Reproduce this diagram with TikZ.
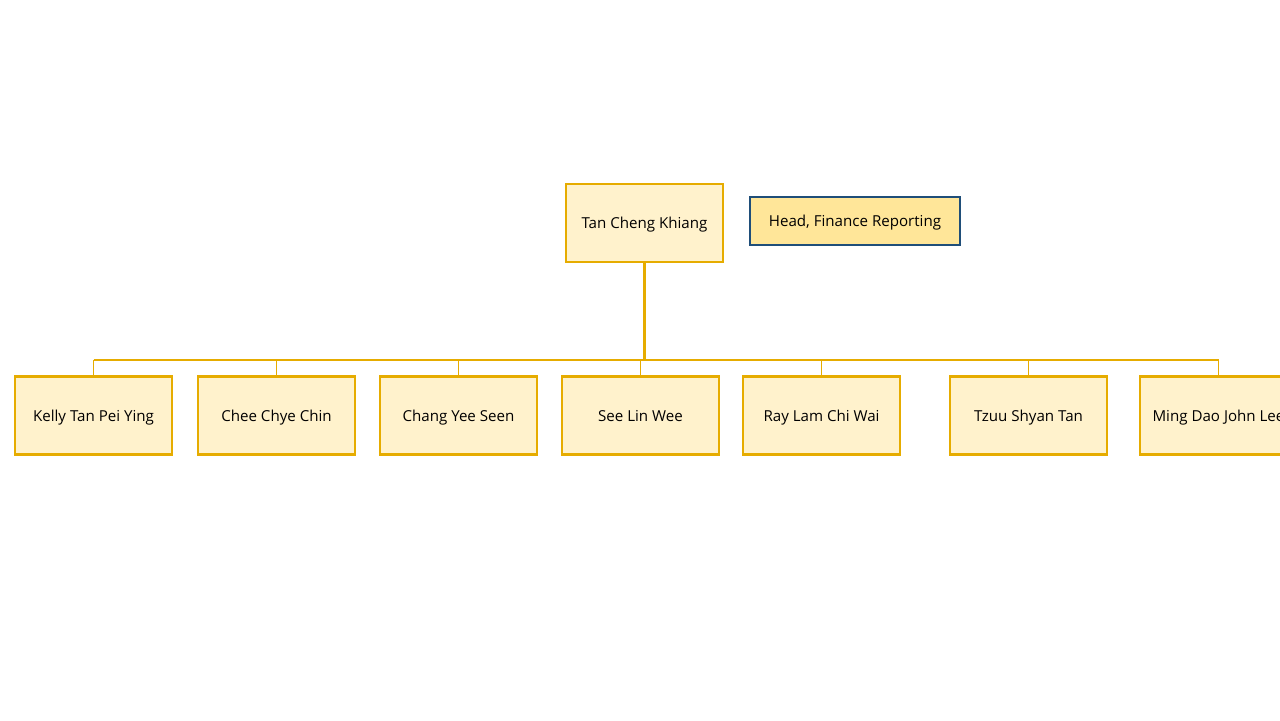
\documentclass[tikz,border=0pt]{standalone}
\usepackage{fontspec}
\setmainfont{Open Sans}
\usepackage{tikz}

\definecolor{gold}{HTML}{E6AC00}
\definecolor{paleyellow}{HTML}{FFF2CC}
\definecolor{headfill}{HTML}{FFE699}
\definecolor{navy}{HTML}{1F4E79}

\tikzset{
  person/.style={draw=gold, fill=paleyellow, line width=1.4pt, minimum width=3.14cm, minimum height=1.56cm, text height=1.4ex, text depth=0.2ex, font=\fontsize{8.6}{10}\selectfont},
  headbox/.style={draw=navy, fill=headfill, line width=1.4pt, minimum width=4.2cm, minimum height=0.96cm, text height=1.4ex, text depth=0.2ex, font=\fontsize{8.6}{10}\selectfont},
  link/.style={draw=gold, line width=0.7pt}
}

\begin{document}
\begin{tikzpicture}[x=0.02cm, y=-0.02cm]
        \useasboundingbox (0,0) rectangle (1280,720);
        \clip (0,0) rectangle (1280,720);

        \node[person] (tan) at (644.5,223) {Tan Cheng Khiang};
        \node[headbox] (head) at (855,221) {Head, Finance Reporting};

        \node[person] (kelly) at (93.5,415.5) {Kelly Tan Pei Ying};
        \node[person] (chee) at (276.5,415.5) {Chee Chye Chin};
        \node[person] (chang) at (458.5,415.5) {Chang Yee Seen};
        \node[person] (see) at (640.5,415.5) {See Lin Wee};
        \node[person] (ray) at (821.5,415.5) {Ray Lam Chi Wai};
        \node[person] (tzuu) at (1028.5,415.5) {Tzuu Shyan Tan};
        \node[person] (ming) at (1218.5,415.5) {Ming Dao John Lee};

        \coordinate (bar) at (0,360);

        \draw[link, line width=1.3pt] (tan.south) -- (tan.south |- bar); % down to the bar
        \draw[link] (kelly.north |- bar) -- (ming.north |- bar); % the bar
        \draw[link] (kelly.north) -- (kelly.north |- bar);
        \draw[link] (chee.north) -- (chee.north |- bar);
        \draw[link] (chang.north) -- (chang.north |- bar);
        \draw[link] (see.north) -- (see.north |- bar);
        \draw[link] (ray.north) -- (ray.north |- bar);
        \draw[link] (tzuu.north) -- (tzuu.north |- bar);
        \draw[link] (ming.north) -- (ming.north |- bar);
    \end{tikzpicture}
\end{document}
